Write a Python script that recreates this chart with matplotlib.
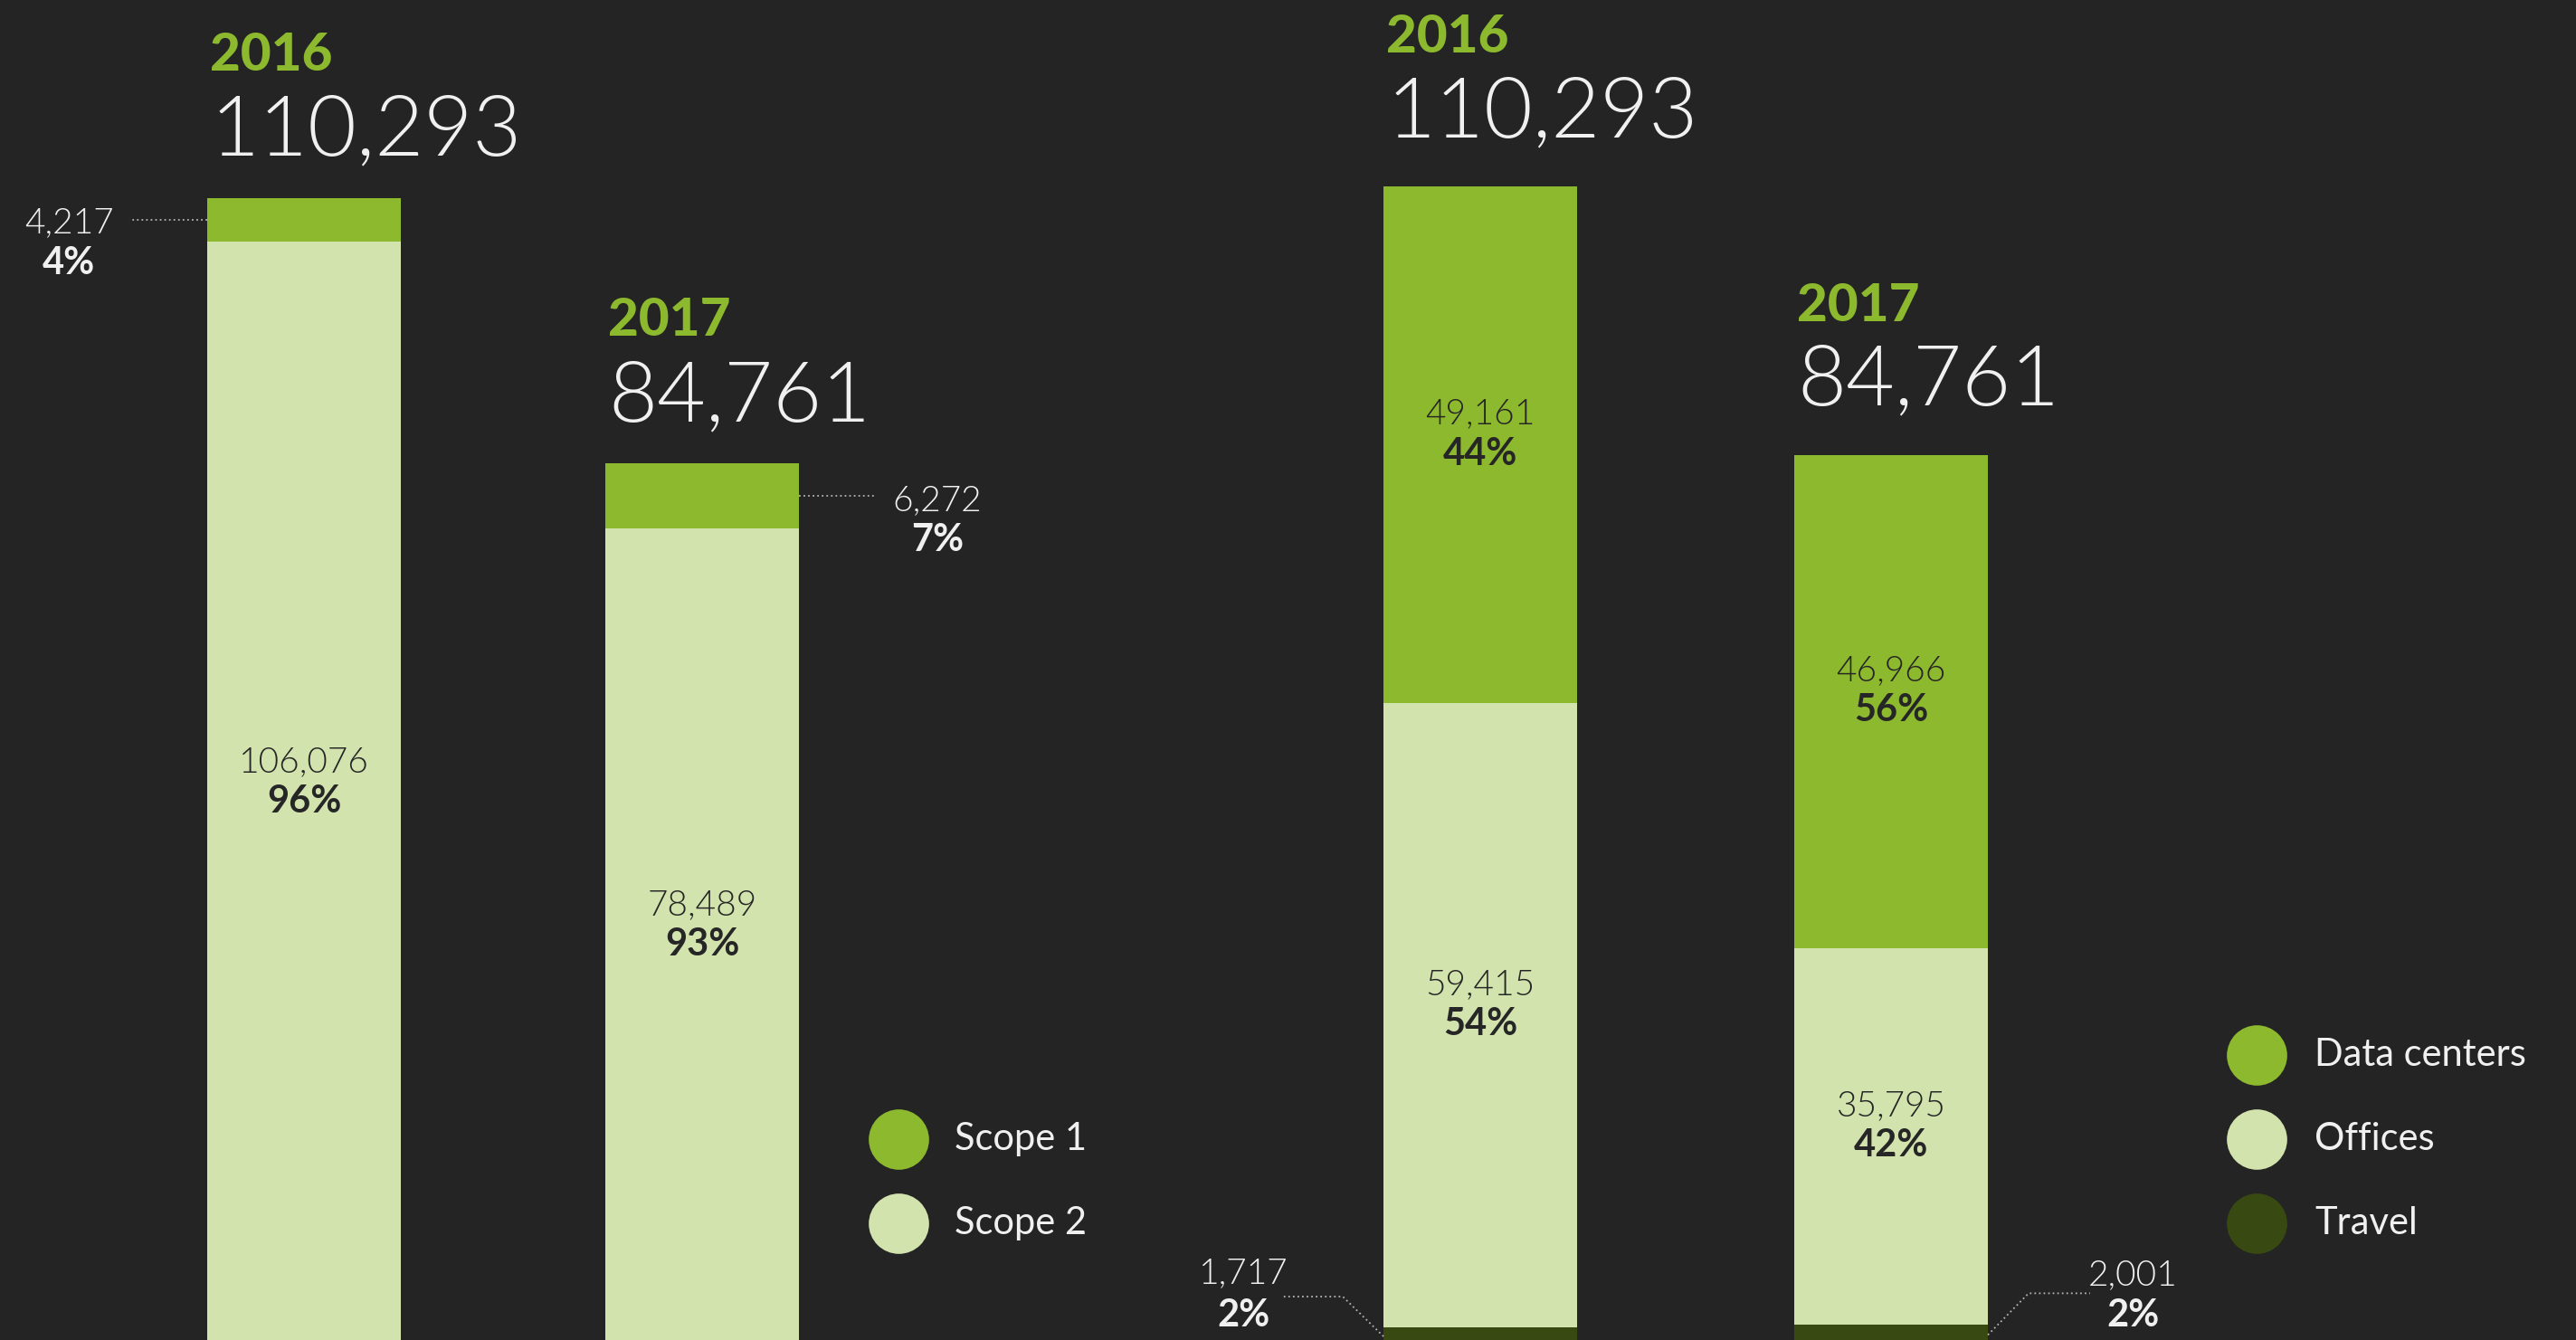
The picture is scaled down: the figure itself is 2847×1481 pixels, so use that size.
import numpy as np
import matplotlib
matplotlib.use("Agg")
import matplotlib.pyplot as plt

# --- data -------------------------------------------------------------
years = ["2016", "2017"]
totals = [110293, 84761]

scope1 = [4217, 6272]
scope2 = [106076, 78489]
scope1_pct = ["4%", "7%"]
scope2_pct = ["96%", "93%"]

travel = [1717, 2001]
offices = [59415, 35795]
data_centers = [49161, 46966]
travel_pct = ["2%", "2%"]
offices_pct = ["54%", "42%"]
data_pct = ["44%", "56%"]

# --- style ------------------------------------------------------------
BG = "#242424"
GREEN = "#8db92e"
LIGHT = "#d2e3ad"
DARK = "#394912"
WHITE = "#f0f0f0"
INK = "#262626"
DOTS = "#b4b4b4"
THIN = 300

plt.rcParams["font.family"] = ["Lato", "DejaVu Sans"]

W, H = 2847, 1481
fig = plt.figure(figsize=(W / 100, H / 100), dpi=100, facecolor=BG)
ax_l = fig.add_axes([0, 0, 0.5, 1])
ax_r = fig.add_axes([0.5, 0, 0.5, 1])
for ax in (ax_l, ax_r):
    ax.axis("off")

x = np.arange(len(years))
bw_l, bw_r = 0.486, 0.471

# left panel: scope 1 / scope 2 (base sits just below the frame)
ax_l.bar(x, scope2, width=bw_l, color=LIGHT)
ax_l.bar(x, scope1, bottom=scope2, width=bw_l, color=GREEN)
ax_l.set_xlim(-0.764, 2.471)
ax_l.set_ylim(350, 129357)

# right panel: travel / offices / data centers
off_bottom = np.array(travel)
dc_bottom = off_bottom + np.array(offices)
ax_r.bar(x, travel, width=bw_r, color=DARK)
ax_r.bar(x, offices, bottom=off_bottom, width=bw_r, color=LIGHT)
ax_r.bar(x, data_centers, bottom=dc_bottom, width=bw_r, color=GREEN)
ax_r.set_xlim(-0.468, 2.667)
ax_r.set_ylim(517, 128035)


def header(ax, xi, bw, top, year, total, num_up, year_up):
    ax.annotate(year, (xi - bw / 2, top), xytext=(3, year_up),
                textcoords="offset pixels", ha="left", va="baseline",
                fontsize=42, fontweight="black", color=GREEN)
    ax.annotate(f"{total:,}", (xi - bw / 2, top), xytext=(3, num_up),
                textcoords="offset pixels", ha="left", va="baseline",
                fontsize=67, fontweight=THIN, color=WHITE)


def inner(ax, xi, bottom, height, value, pct):
    mid = bottom + height / 2
    ax.annotate(f"{value:,}", (xi, mid), xytext=(0, 23),
                textcoords="offset pixels", ha="center", va="baseline",
                fontsize=28, fontweight=THIN, color=INK)
    ax.annotate(pct, (xi, mid), xytext=(0, -22),
                textcoords="offset pixels", ha="center", va="baseline",
                fontsize=30, fontweight="bold", color=INK)


def leader(ax, xy, path):
    x0, y0 = ax.transData.transform(xy)
    pts = ax.transData.inverted().transform(
        [(x0 + dx, y0 + dy) for dx, dy in path])
    ax.plot(pts[:, 0], pts[:, 1], color=DOTS, lw=1.3,
            linestyle=(0, (1, 1.8)), clip_on=False)


def outer(ax, xy, dx, dy_val, dy_pct, value, pct):
    ax.annotate(f"{value:,}", xy, xytext=(dx, dy_val),
                textcoords="offset pixels", ha="center", va="baseline",
                fontsize=28, fontweight=THIN, color=WHITE)
    ax.annotate(pct, xy, xytext=(dx, dy_pct),
                textcoords="offset pixels", ha="center", va="baseline",
                fontsize=30, fontweight="bold", color=WHITE)


for i in range(len(years)):
    header(ax_l, x[i], bw_l, scope1[i] + scope2[i], years[i], totals[i], 47, 141)
    header(ax_r, x[i], bw_r, dc_bottom[i] + data_centers[i], years[i], totals[i], 55, 148)
    inner(ax_l, x[i], 0, scope2[i], scope2[i], scope2_pct[i])
    inner(ax_r, x[i], dc_bottom[i], data_centers[i], data_centers[i], data_pct[i])
    inner(ax_r, x[i], off_bottom[i], offices[i], offices[i], offices_pct[i])

# scope 1 call-outs
xy = (x[0] - bw_l / 2, scope2[0] + scope1[0] / 2)
leader(ax_l, xy, [(0, 0), (-86, 0)])
outer(ax_l, xy, -153, -14, -60, scope1[0], scope1_pct[0])
xy = (x[1] + bw_l / 2, scope2[1] + scope1[1] / 2)
leader(ax_l, xy, [(0, 0), (85, 0)])
outer(ax_l, xy, 153, -16, -61, scope1[1], scope1_pct[1])

# travel call-outs
xy = (x[0] - bw_r / 2, travel[0] / 2)
leader(ax_r, xy, [(0, 0), (-45, 44), (-111, 44)])
outer(ax_r, xy, -155, 59, 11, travel[0], travel_pct[0])
xy = (x[1] + bw_r / 2, travel[1] / 2)
leader(ax_r, xy, [(0, 0), (45, 46), (113, 46)])
outer(ax_r, xy, 160, 55, 9, travel[1], travel_pct[1])

# legends (pixel overlay)
ov = fig.add_axes([0, 0, 1, 1], facecolor="none")
ov.set_xlim(0, W)
ov.set_ylim(H, 0)
ov.axis("off")


def legend(names, colors, cx, tx, ys):
    for name, c, y in zip(names, colors, ys):
        ov.scatter([cx], [y], s=48 ** 2, color=c, linewidths=0)
        ov.text(tx, y + 12, name, ha="left", va="baseline",
                fontsize=30, color=WHITE)


legend(["Scope 1", "Scope 2"], [GREEN, LIGHT], 993, 1055, [1259, 1352])
legend(["Data centers", "Offices", "Travel"], [GREEN, LIGHT, DARK],
       2494, 2558, [1166, 1259, 1352])

fig.savefig("out.png", dpi=100, facecolor=BG)
